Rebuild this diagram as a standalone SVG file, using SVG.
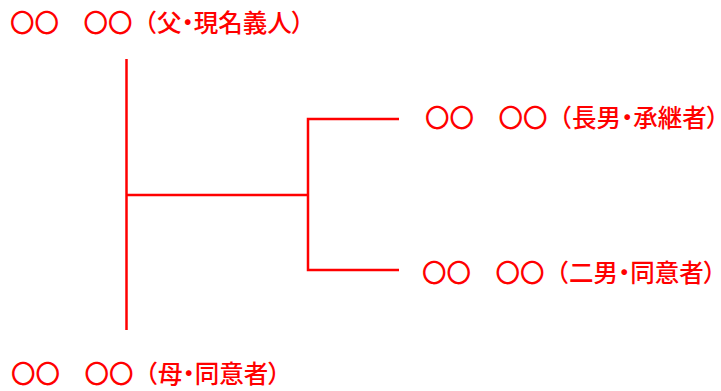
<svg xmlns="http://www.w3.org/2000/svg" width="721" height="391" viewBox="0 0 721 391">
<style>
.t{font-family:"Noto Sans CJK JP","Noto Sans",sans-serif;font-size:24.5px;font-weight:500;fill:#FF0000}
.p{font-feature-settings:"palt"}
.c{stroke:#FF0000;stroke-width:2.5;fill:none}
</style>
<rect width="721" height="391" fill="#fff"/>
<g id="connectors">
<line class="c" x1="126.5" y1="59" x2="126.5" y2="330"/>
<line class="c" x1="126.5" y1="195" x2="308" y2="195"/>
<polyline class="c" points="399,119 308,119 308,270 399,270"/>
</g>
<g id="father"><text class="t" x="10" y="32">〇〇　〇〇（父<tspan class="p">・</tspan>現名義人<tspan class="p">）</tspan></text></g>
<g id="son1"><text class="t" x="425" y="127">〇〇　〇〇（長男<tspan class="p">・</tspan>承継者<tspan class="p">）</tspan></text></g>
<g id="son2"><text class="t" x="422" y="282">〇〇　〇〇（二男<tspan class="p">・</tspan>同意者<tspan class="p">）</tspan></text></g>
<g id="mother"><text class="t" x="11" y="383">〇〇　〇〇（母<tspan class="p">・</tspan>同意者<tspan class="p">）</tspan></text></g>
</svg>
